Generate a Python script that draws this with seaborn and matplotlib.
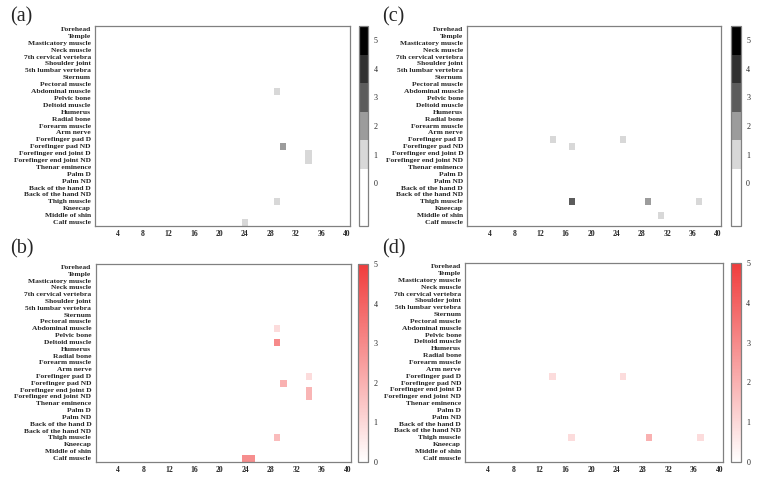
#!/usr/bin/env python3
"""
Body-part x session heatmaps, four panels:
  (a)/(c) discrete gray count maps, (b)/(d) continuous red intensity maps.
"""
import matplotlib
matplotlib.use('Agg')
import matplotlib.pyplot as plt
from matplotlib.colors import ListedColormap, LinearSegmentedColormap
import seaborn as sns
import numpy as np
import pandas as pd

# ---- data -------------------------------------------------------------
PARTS = ['Forehead', 'Temple', 'Masticatory muscle', 'Neck muscle',
         '7th cervical vertebra', 'Shoulder joint', '5th lumbar vertebra',
         'Sternum', 'Pectoral muscle', 'Abdominal muscle', 'Pelvic bone',
         'Deltoid muscle', 'Humerus', 'Radial bone', 'Forearm muscle',
         'Arm nerve', 'Forefinger pad D', 'Forefinger pad ND',
         'Forefinger end joint D', 'Forefinger end joint ND',
         'Thenar eminence', 'Palm D', 'Palm ND', 'Back of the hand D',
         'Back of the hand ND', 'Thigh muscle', 'Kneecap', 'Middle of shin',
         'Calf muscle']
COLUMNS = list(range(1, 41))
XTICKS = [4, 8, 12, 16, 20, 24, 28, 32, 36, 40]

# panel (a)
A_PART = ['Abdominal muscle', 'Forefinger pad ND', 'Forefinger end joint D',
          'Forefinger end joint ND', 'Thigh muscle', 'Calf muscle']
A_COL = [29, 30, 34, 34, 29, 24]
A_VAL = [1, 2, 1, 1, 1, 1]

# panel (b)
B_PART = ['Abdominal muscle', 'Deltoid muscle', 'Forefinger pad D',
          'Forefinger pad ND', 'Forefinger end joint D',
          'Forefinger end joint ND', 'Thigh muscle', 'Calf muscle',
          'Calf muscle']
B_COL = [29, 29, 34, 30, 34, 34, 29, 24, 25]
B_VAL = [0.9, 3.0, 0.9, 2.0, 1.9, 1.9, 1.7, 2.9, 2.9]

# panel (c)
C_PART = ['Forefinger pad D', 'Forefinger pad D', 'Forefinger pad ND',
          'Thigh muscle', 'Thigh muscle', 'Thigh muscle', 'Middle of shin']
C_COL = [14, 25, 17, 17, 29, 37, 31]
C_VAL = [1, 1, 1, 3, 2, 1, 1]

# panel (d)
D_PART = ['Forefinger pad D', 'Forefinger pad D', 'Thigh muscle',
          'Thigh muscle', 'Thigh muscle']
D_COL = [14, 25, 17, 29, 37]
D_VAL = [0.9, 0.9, 0.9, 2.0, 0.9]

# ---- style ------------------------------------------------------------
sns.set_style('white')
plt.rcParams.update({
    'font.family': ['Liberation Serif', 'DejaVu Serif'],
    'axes.edgecolor': '#808080',
    'axes.linewidth': 0.8,
})

GRAY_CMAP = ListedColormap(['#ffffff', '#ffffff', '#d8d8d8', '#9c9c9c',
                            '#5c5c5c', '#303030', '#000000'])
RED_CMAP = LinearSegmentedColormap.from_list('wr', ['#ffffff', '#f03c3c'])


def to_matrix(parts, cols, vals):
    df = pd.DataFrame({'part': parts, 'col': cols, 'val': vals})
    mat = df.pivot_table(index='part', columns='col', values='val', aggfunc='sum')
    return mat.reindex(index=PARTS, columns=COLUMNS).fillna(0)


def panel(fig, rect, cbar_rect, mat, kind):
    ax = fig.add_axes(rect)
    cax = fig.add_axes(cbar_rect)
    if kind == 'gray':
        kw = dict(cmap=GRAY_CMAP, vmin=-1.5, vmax=5.5)
    else:
        kw = dict(cmap=RED_CMAP, vmin=0, vmax=5)
    sns.heatmap(mat, ax=ax, cbar_ax=cax, xticklabels=True, yticklabels=True,
                linewidths=0, **kw)

    ax.set_xticks([c - 0.5 for c in XTICKS])
    ax.set_xticklabels([str(c) for c in XTICKS], rotation=0,
                       fontsize=5.5, fontweight='bold')
    ax.set_yticks(np.arange(len(PARTS)) + 0.5)
    ax.set_yticklabels(PARTS, rotation=0, fontsize=5.4, fontweight='bold')
    ax.tick_params(axis='both', length=0, pad=3)
    ax.set_xlabel('')
    ax.set_ylabel('')
    for sp in ax.spines.values():
        sp.set_visible(True)
        sp.set_color('#808080')
        sp.set_linewidth(0.9)

    # colorbar: gnuplot-like inward ticks on both sides
    cbar = ax.collections[0].colorbar
    if kind == 'gray':
        cbar.set_ticks([-1, 0, 1, 2, 3, 4, 5])
        cbar.set_ticklabels(['', '0', '1', '2', '3', '4', '5'])
    else:
        cbar.set_ticks([0, 1, 2, 3, 4, 5])
        cbar.set_ticklabels(['0', '1', '2', '3', '4', '5'])
    cax.tick_params(direction='in', length=2, width=0.6, left=True, right=True,
                    color='#333333', labelsize=5.8, pad=4)
    cbar.outline.set_visible(True)
    cbar.outline.set_edgecolor('#808080')
    cbar.outline.set_linewidth(0.9)
    return ax


fig = plt.figure(figsize=(7.57, 4.79), dpi=100)

panel(fig, [0.1255, 0.5282, 0.3369, 0.4175], [0.4736, 0.5282, 0.0125, 0.4175],
      to_matrix(A_PART, A_COL, A_VAL), 'gray')
panel(fig, [0.1262, 0.0361, 0.3369, 0.4128], [0.4729, 0.0361, 0.0130, 0.4128],
      to_matrix(B_PART, B_COL, B_VAL), 'red')
panel(fig, [0.6173, 0.5282, 0.3355, 0.4175], [0.9653, 0.5282, 0.0130, 0.4175],
      to_matrix(C_PART, C_COL, C_VAL), 'gray')
panel(fig, [0.6147, 0.0361, 0.3404, 0.4143], [0.9657, 0.0361, 0.0128, 0.4143],
      to_matrix(D_PART, D_COL, D_VAL), 'red')

# panel letters
for txt, x, y in [('(a)', 0.014, 0.985), ('(b)', 0.014, 0.500),
                  ('(c)', 0.505, 0.985), ('(d)', 0.505, 0.500)]:
    fig.text(x, y, txt, fontsize=14.5, va='top', ha='left')

fig.savefig('out.png', dpi=100)
plt.close(fig)
